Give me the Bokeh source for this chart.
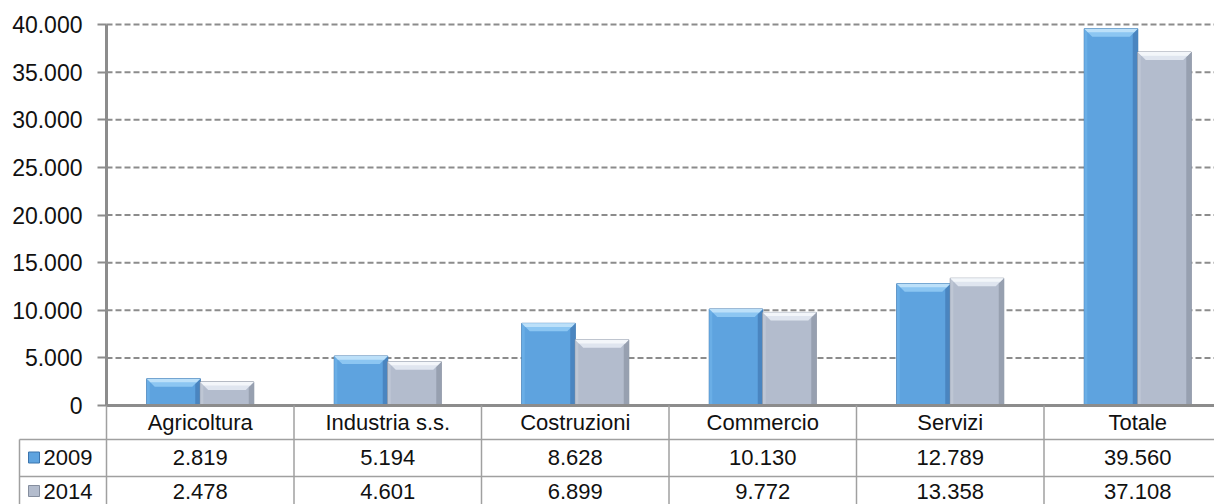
from bokeh.plotting import figure
from bokeh.models import Range1d, LinearAxis, FixedTicker
from bokeh.core.properties import value
from bokeh.embed import file_html
from bokeh.resources import INLINE

# ---------------- data ----------------
categories = ["Agricoltura", "Industria s.s.", "Costruzioni", "Commercio", "Servizi", "Totale"]
series_names = ["2009", "2014"]
values_2009 = [2819, 5194, 8628, 10130, 12789, 39560]
values_2014 = [2478, 4601, 6899, 9772, 13358, 37108]
y_ticks = [0, 5000, 10000, 15000, 20000, 25000, 30000, 35000, 40000]
y_tick_labels = ["0", "5.000", "10.000", "15.000", "20.000", "25.000", "30.000", "35.000", "40.000"]

# ---------------- layout geometry (pixels) ----------------
W, H = 1214, 504
COL_W = 187.5        # width of one category column
AX_X = 106           # x of the value axis
Y0_PX = 405          # y of value 0
YTOP_PX = 24         # y of top tick
YMAX = 40000
K = YMAX / (Y0_PX - YTOP_PX)   # data units per pixel (vertical)


def dx(px):
    return (px - AX_X) / COL_W


def dy(py):
    return (Y0_PX - py) * K


FONT = value("Liberation Sans")
TXT = "#111111"

p = figure(width=W, height=H,
           x_range=Range1d(dx(0), dx(W)), y_range=Range1d(dy(H), dy(0)),
           output_backend="svg", toolbar_location=None,
           x_axis_location=None, y_axis_location=None,
           min_border=0, outline_line_color=None, background_fill_color="white")
p.grid.visible = False

# ---------------- value axis ----------------
yaxis = LinearAxis(fixed_location=0, bounds=(0, YMAX),
                   ticker=FixedTicker(ticks=y_ticks),
                   major_label_overrides={t: l for t, l in zip(y_ticks, y_tick_labels)})
yaxis.axis_line_color = "#8c8c8c"
yaxis.axis_line_width = 3
yaxis.major_tick_line_color = "#8c8c8c"
yaxis.major_tick_line_width = 2
yaxis.major_tick_out = 9
yaxis.major_tick_in = 0
yaxis.minor_tick_line_color = None
yaxis.major_label_standoff = 15
yaxis.major_label_text_font = "Liberation Sans"
yaxis.major_label_text_font_size = "23px"
yaxis.major_label_text_color = TXT
p.add_layout(yaxis, "left")

# ---------------- gridlines ----------------
grid_vals = [t for t in y_ticks if t > 0]
p.segment(x0=[0] * len(grid_vals), x1=[dx(W)] * len(grid_vals), y0=grid_vals, y1=grid_vals,
          line_color="#8c8c8c", line_width=2, line_dash="6 3")

# ---------------- bars with bevel ----------------
n = len(categories)
bar_w = 53.5 / COL_W
centers = [i + 0.5 for i in range(n)]
x09 = [c - bar_w / 2 for c in centers]
x14 = [c + bar_w / 2 for c in centers]

styles = [
    (x09, values_2009, dict(main="#5ea3df", edge="#3b74ad", top="#8cc6f2", hi="#c4e4fa", right="#4a85c0", left="#6aaee6")),
    (x14, values_2014, dict(main="#b3bccd", edge="#858e9e", top="#dfe5ef", hi="#f7f9fc", right="#97a0b0", left="#bec6d4")),
]

for xs, vals, c in styles:
    p.vbar(x=xs, width=bar_w, top=vals, bottom=0, fill_color=c["main"], line_color=c["edge"], line_width=1)
    b = 8
    bx, by = b / COL_W, b * K
    sr, sl = 5 / COL_W, 3 / COL_W
    top_xs, top_ys, hi_xs, hi_ys, r_xs, r_ys, l_xs, l_ys = [], [], [], [], [], [], [], []
    for x, t in zip(xs, vals):
        l, r = x - bar_w / 2, x + bar_w / 2
        top_xs.append([l, r, r - bx, l + bx])
        top_ys.append([t, t, t - by, t - by])
        hi_xs.append([l, r, r - bx * 0.45, l + bx * 0.45])
        hi_ys.append([t, t, t - by * 0.45, t - by * 0.45])
        r_xs.append([r, r, r - sr, r - sr])
        r_ys.append([t, 0, 0, t - by * 5 / 8])
        l_xs.append([l, l, l + sl, l + sl])
        l_ys.append([t, 0, 0, t - by * 3 / 8])
    p.patches(xs=r_xs, ys=r_ys, fill_color=c["right"], line_color=None)
    p.patches(xs=l_xs, ys=l_ys, fill_color=c["left"], line_color=None)
    p.patches(xs=top_xs, ys=top_ys, fill_color=c["top"], line_color=None)
    p.patches(xs=hi_xs, ys=hi_ys, fill_color=c["hi"], line_color=None, fill_alpha=0.85)

# ---------------- category axis line ----------------
p.segment(x0=[0], x1=[dx(W)], y0=[0], y1=[0], line_color="#8c8c8c", line_width=3)

# ---------------- data table ----------------
TL = "#a0a0a0"
row_lines = [dy(439), dy(476)]
p.segment(x0=[dx(19)] * 2, x1=[dx(W)] * 2, y0=row_lines, y1=row_lines, line_color=TL, line_width=1.5)
vx = [dx(19), 0] + [i for i in range(1, n)]
vy0 = [dy(439), 0] + [0] * (n - 1)
p.segment(x0=vx, x1=vx, y0=vy0, y1=[dy(H)] * len(vx), line_color=TL, line_width=1.5)

header_y = dy(422)
row_y = [dy(457), dy(490.5)]
p.text(x=centers, y=[header_y] * n, text=categories, text_font=FONT, text_font_size="22px",
       text_color=TXT, text_align="center", text_baseline="middle")


def fmt(v):
    return f"{v:,}".replace(",", ".")


for ry, vals in zip(row_y, [values_2009, values_2014]):
    p.text(x=centers, y=[ry] * n, text=[fmt(v) for v in vals], text_font=FONT, text_font_size="22px",
           text_color=TXT, text_align="center", text_baseline="middle")

# legend keys in the table
p.text(x=[dx(43)] * 2, y=row_y, text=series_names, text_font=FONT, text_font_size="22px",
       text_color=TXT, text_align="left", text_baseline="middle")
p.scatter(x=[dx(33.5)], y=[row_y[0]], marker="square", size=11, fill_color="#5ea3df", line_color="#3b74ad")
p.scatter(x=[dx(33.5)], y=[row_y[1]], marker="square", size=11, fill_color="#b3bccd", line_color="#858e9e")

open("out.html", "w").write(file_html(p, INLINE))
